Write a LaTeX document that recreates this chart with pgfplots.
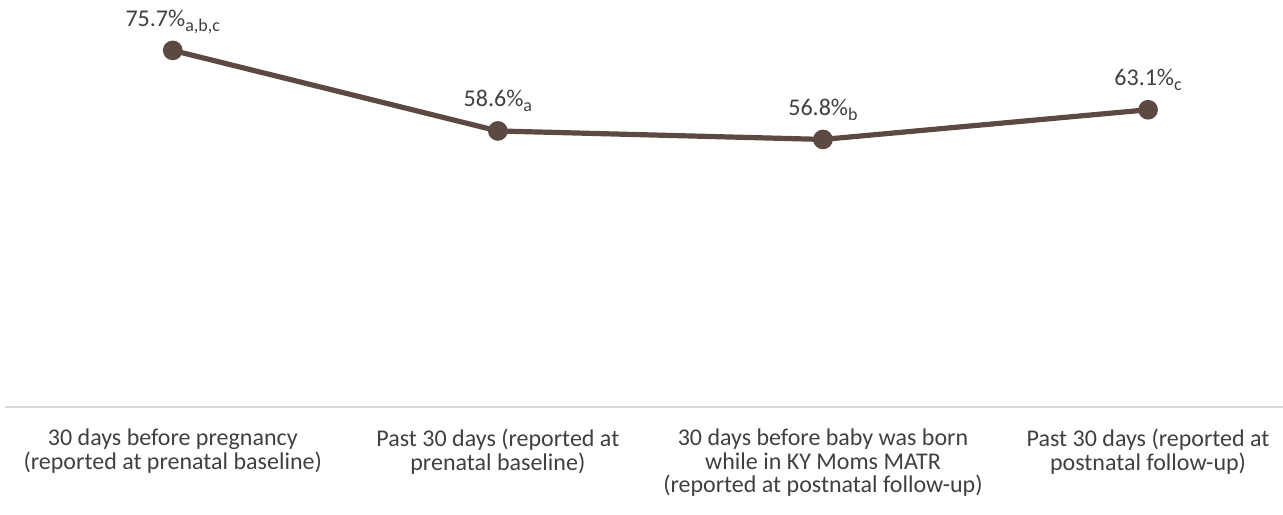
\documentclass[border=0pt]{standalone}
\usepackage{pgfplots}
\pgfplotsset{compat=1.18}
\usepackage{fontspec}
\setmainfont{Carlito}
\definecolor{linebrown}{HTML}{5C4A42}
\definecolor{labelgray}{HTML}{404040}
\definecolor{axisgray}{HTML}{D9D9D9}
\newcommand{\sub}[1]{\raisebox{-2.5pt}{\fontsize{9pt}{10pt}\selectfont #1}}

\begin{document}
\begin{tikzpicture}
\useasboundingbox (-2.5pt,-53.5pt) rectangle (639pt,203.5pt);
\begin{axis}[
    scale only axis,
    width=639pt,
    height=203.5pt,
    xmin=-0.516, xmax=3.415,
    ymin=0, ymax=86.4,
    axis line style={draw=none},
    axis x line*=bottom,
    axis y line=none,
    ytick=\empty,
    xtick={0,1,2,3},
    xticklabels={
      {30 days before pregnancy\\(reported at prenatal baseline)},
      {Past 30 days (reported at\\prenatal baseline)},
      {30 days before baby was born\\while in KY Moms MATR\\(reported at postnatal follow-up)},
      {Past 30 days (reported at\\postnatal follow-up)}},
    major tick length=0pt,
    xticklabel style={align=center, font=\fontsize{12pt}{11.7pt}\selectfont,
      text=labelgray, anchor=north, yshift=-7.5pt},
    clip=false,
    nodes near coords,
    point meta=explicit symbolic,
    every node near coord/.append style={anchor=base, yshift=12pt,
      font=\fontsize{12pt}{14pt}\selectfont, text=labelgray},
]
\draw[axisgray, line width=1pt] (axis cs:-0.516,0) -- (axis cs:3.415,0);
\addplot[linebrown, line width=2.6pt, mark=*, mark size=3.6pt,
  mark options={fill=linebrown, draw=linebrown}] coordinates {
  (0,75.7) [75.7\%\sub{a,b,c}]
  (1,58.6) [58.6\%\sub{a}]
  (2,56.8) [56.8\%\sub{b}]
  (3,63.1) [63.1\%\sub{c}]
};
\end{axis}
\end{tikzpicture}
\end{document}
